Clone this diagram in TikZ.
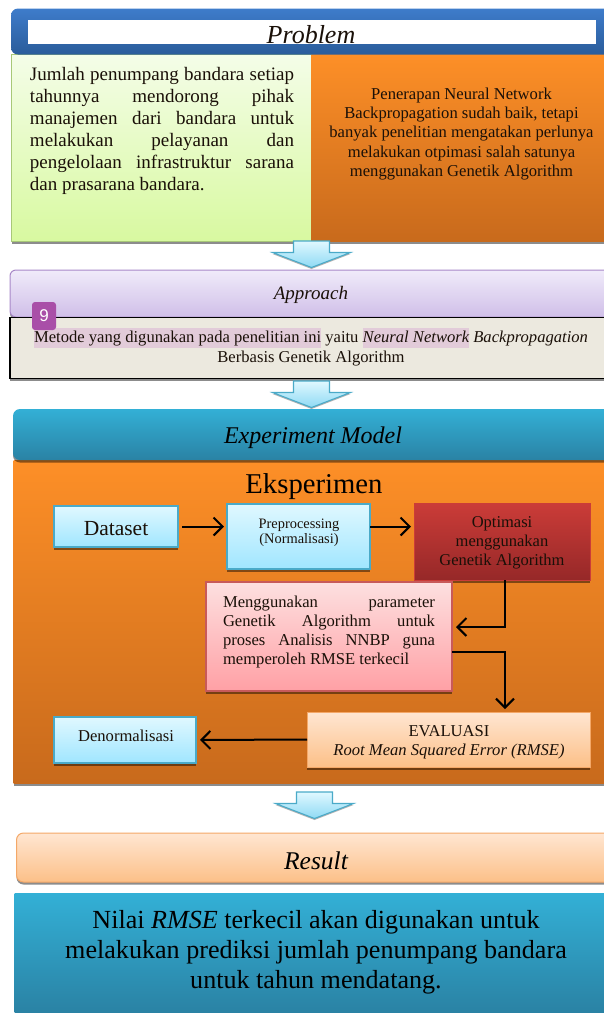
\documentclass[tikz,border=0pt]{standalone}
\usepackage{fontspec}
\setmainfont{Liberation Serif}
\setsansfont{Liberation Sans}
\usetikzlibrary{positioning,calc,arrows.meta,shadows}

\definecolor{inkdark}{HTML}{1A1008}
\definecolor{hlpink}{HTML}{E2CBD9}
\definecolor{goldtop}{HTML}{FD8F27}
\definecolor{goldlow}{HTML}{C86A1C}
\definecolor{limetop}{HTML}{F4FDE8}
\definecolor{limelow}{HTML}{D8F9A0}
\definecolor{limeline}{HTML}{A8C878}
\definecolor{navytop}{HTML}{3E7CCB}
\definecolor{navylow}{HTML}{2A5C9A}
\definecolor{tealtop}{HTML}{33B0D6}
\definecolor{teallow}{HTML}{2A82A4}
\definecolor{redtop}{HTML}{CB3C38}
\definecolor{redlow}{HTML}{962828}
\definecolor{pinktop}{HTML}{FDE0E0}
\definecolor{pinklow}{HTML}{FFA0A5}
\definecolor{pinkline}{HTML}{C85A5A}
\definecolor{peachtop}{HTML}{FFE6D2}
\definecolor{peachlow}{HTML}{FCC088}
\definecolor{peachline}{HTML}{F4A868}
\definecolor{skytop}{HTML}{E0F8FF}
\definecolor{skylow}{HTML}{A0E6FF}
\definecolor{skyline}{HTML}{4AAAC8}
\definecolor{lilactop}{HTML}{F0EBFA}
\definecolor{lilaclow}{HTML}{D0BFE8}
\definecolor{lilacline}{HTML}{A888C8}
\definecolor{creamfill}{HTML}{ECE9DF}
\definecolor{badgefill}{HTML}{A94FA8}
\newcommand{\hlmark}[1]{\setlength{\fboxsep}{0pt}\colorbox{hlpink}{\strut #1}}
\newcommand{\fsz}[2]{\fontsize{#1}{#2}\selectfont}

\tikzset{
  plain/.style={inner sep=0, outer sep=0, text=inkdark},
  shade/.style={drop shadow={shadow xshift=0pt, shadow yshift=-2.5pt, fill=black, opacity=.45}},
  goldpanel/.style={plain, top color=goldtop, bottom color=goldlow},
  tealbox/.style={plain, top color=tealtop, bottom color=teallow},
  skybox/.style={plain, draw=skyline, line width=1.2, top color=skytop, bottom color=skylow, shade},
  peachbox/.style={plain, draw=peachline, line width=1, top color=peachtop, bottom color=peachlow, shade},
  flow/.style={line width=2, black, -{Straight Barb[length=9pt,width=18pt,line width=2]}},
  blockarrow/.style={draw=skyline, line width=1.1, top color=skytop, bottom color=skylow!80!skyline,
    drop shadow={shadow xshift=0pt, shadow yshift=-1.5pt, fill=gray, opacity=.6}}
}

\begin{document}
\begin{tikzpicture}[x=1pt,y=-1pt]
  \useasboundingbox (0,0) rectangle (604,1013);
  \clip (0,0) rectangle (604,1013);

  % problem
  \node[plain, draw=limeline, line width=1.2, top color=limetop, bottom color=limelow, shade,
    minimum width=300, minimum height=187] (need) at (161.5,148) {};
  \node[goldpanel, minimum width=300, minimum height=187, shade] (gap) at (461.5,148) {};
  \node[plain, rounded corners=7, top color=navytop, bottom color=navylow,
    minimum width=610, minimum height=46] (problemhead) at (316,31.5) {};
  \node[plain, fill=white, minimum width=568, minimum height=24.5] (problemslot) at (312,32) {};
  \node[plain, font=\fsz{26}{30}\itshape, anchor=base] (problem) at (311,43.5) {Problem};
  \node[plain, font=\fsz{19}{22}, text width=264, align=justify, anchor=north west] (needtext) at (30,67)
    {Jumlah penumpang bandara setiap\linebreak
     tahunnya mendorong pihak\linebreak
     manajemen dari bandara untuk\linebreak
     melakukan pelayanan dan\linebreak
     pengelolaan infrastruktur sarana\linebreak
     dan prasarana bandara.};
  \node[plain, font=\fsz{16.6}{19.2}, align=center] (gaptext) at (461.5,134)
    {Penerapan Neural Network\\
     Backpropagation sudah baik, tetapi\\
     banyak penelitian mengatakan perlunya\\
     melakukan otpimasi salah satunya\\
     menggunakan Genetik Algorithm};

  % approach
  \node[plain, draw=lilacline, line width=1, rounded corners=6, top color=lilactop, bottom color=lilaclow,
    minimum width=620, minimum height=47, shade] (approachhead) at (320,293.5) {};
  \node[plain, font=\fsz{19}{22}\itshape] (approach) at (311,295) {Approach};
  \node[plain, draw=black, line width=1.3, fill=creamfill, minimum width=620, minimum height=61, shade] (method) at (320,348) {};
  \node[plain, font=\fsz{16.6}{20}, align=center] (methodtext) at (311,347)
    {\hlmark{Metode yang digunakan pada penelitian ini} yaitu \hlmark{\itshape Neural Network} \textit{Backpropagation}\\
     Berbasis Genetik Algorithm};
  \node[plain, fill=badgefill, rounded corners=3, text=white, font=\fsz{17}{20}\sffamily,
    minimum width=24, minimum height=28] (badge) at (44,316) {9};

  % experiment
  \node[goldpanel, minimum width=600, minimum height=323, shade] (panel) at (313.5,621.5) {};
  \node[tealbox, rounded corners=7, minimum width=610, minimum height=51, shade] (experimenthead) at (318,434.5) {};
  \node[plain, font=\fsz{24}{28}\itshape, text=black] (experiment) at (313,437.5) {Experiment Model};
  \node[plain, font=\fsz{28.7}{32}, text=black] (eksperimen) at (314,487) {Eksperimen};

  \node[skybox, minimum width=124, minimum height=41] (dataset) at (116,526.5) {};
  \node[plain, font=\fsz{21.5}{24}] (datasettext) at (116,528.5) {Dataset};
  \node[skybox, minimum width=143, minimum height=65] (prep) at (298.5,536.5) {};
  \node[plain, font=\fsz{14.4}{15.4}, align=center] (preptext) at (299,532.5) {Preprocessing\\(Normalisasi)};
  \node[plain, draw=redtop, line width=1, top color=redtop, bottom color=redlow,
    minimum width=176, minimum height=77, shade] (opt) at (502,541.5) {};
  \node[plain, font=\fsz{16.5}{19}, align=center] (opttext) at (502,543) {Optimasi\\menggunakan\\Genetik Algorithm};
  \node[plain, draw=pinkline, line width=1.3, top color=pinktop, bottom color=pinklow,
    minimum width=246, minimum height=109, shade] (pink) at (329,636.5) {};
  \node[plain, font=\fsz{16.6}{19.2}, text width=212, align=justify, anchor=north west] (pinktext) at (223,595.5)
    {Menggunakan parameter\linebreak
     Genetik Algorithm untuk\linebreak
     proses Analisis NNBP guna\linebreak
     memperoleh RMSE terkecil};
  \node[peachbox, minimum width=283, minimum height=55] (eval) at (448.5,739.5) {};
  \node[plain, font=\fsz{16.6}{19}, align=center] (evaltext) at (449,742) {EVALUASI\\\textit{Root Mean Squared Error (RMSE)}};
  \node[skybox, minimum width=142, minimum height=46] (denorm) at (125,740) {};
  \node[plain, font=\fsz{16.6}{18}] (denormtext) at (126,736) {Denormalisasi};

  \coordinate (turnin) at (505,627);
  \coordinate (turnout) at (505,652);
  \draw[flow, shorten <=4, shorten >=3] (dataset) -- (dataset -| prep.west);
  \draw[flow, shorten >=3] (prep.east |- dataset) -- (opt.west |- dataset);
  \draw[flow, shorten >=4] (opt.south -| turnin) -- (turnin) -- (pink.east |- turnin);
  \draw[flow, shorten >=3] (pink.east |- turnout) -- (turnout) -- (eval.north -| turnout);
  \draw[flow, shorten >=4] (eval.west) -- (denorm.east);

  % result
  \node[peachbox, rounded corners=7, minimum width=620, minimum height=49] (resulthead) at (326.5,857.5) {};
  \node[plain, font=\fsz{25.5}{28}\itshape, text=black] (result) at (316,861) {Result};
  \node[tealbox, minimum width=590, minimum height=120] (resultbox) at (309.5,953) {};
  \node[plain, font=\fsz{26.1}{30}, align=center, text=black] (resulttext) at (316,952)
    {Nilai \textit{RMSE} terkecil akan digunakan untuk\\
     melakukan prediksi jumlah penumpang bandara\\
     untuk tahun mendatang.};

  % block arrows between the stages
  \foreach \cx/\ty in {311.5/241, 311.5/381, 314.5/792}
    \path[blockarrow] (\cx-18,\ty) -- (\cx+18,\ty) -- (\cx+18,\ty+11.5) -- (\cx+39,\ty+11.5)
      -- (\cx,\ty+26.5) -- (\cx-39,\ty+11.5) -- (\cx-18,\ty+11.5) -- cycle;
\end{tikzpicture}
\end{document}
